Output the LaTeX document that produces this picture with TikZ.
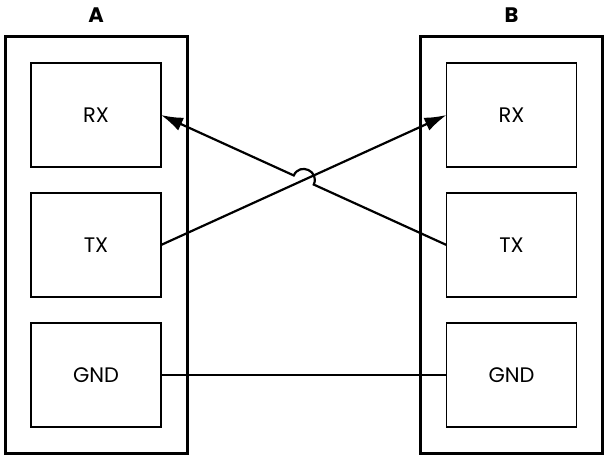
\documentclass[tikz,border=0pt]{standalone}
\usepackage{fontspec}
\setmainfont{Poppins}
\usetikzlibrary{positioning}
\usetikzlibrary{calc}
\usetikzlibrary{arrows.meta}

\begin{document}
\begin{tikzpicture}
[
x=0.5pt, y=-0.5pt,
board-a/.style={rectangle,draw,line width=1.5pt,outer sep=0pt,minimum width=91pt,minimum height=208pt},
pin-a/.style={rectangle,draw,line width=0.6pt,outer sep=0pt,minimum width=65pt,minimum height=52pt,font=\fontsize{10.5}{12}\selectfont},
text-a/.style={black,font=\bfseries\fontsize{10.5}{12}\selectfont},
wire-a/.style={line width=1.1pt},
]
\useasboundingbox (0,0) rectangle (609,459);
% device A
\node (bA) [board-a] at (96,245)       {};
\node (lA) [text-a,  above = 3.5pt of bA]  {A};
\node (rxA) [pin-a]  at (96,115)       {RX};
\node (txA) [pin-a,  below = 13pt of rxA] {TX};
\node (gndA) [pin-a, below = 13pt of txA] {GND};
% device B
\node (bB) [board-a] at (511.5,245)    {};
\node (lB) [text-a,  above = 3.5pt of bB]  {B};
\node (rxB) [pin-a]  at (511.5,115)    {RX};
\node (txB) [pin-a,  below = 13pt of rxB] {TX};
\node (gndB) [pin-a, below = 13pt of txB] {GND};
% wires
\coordinate (h1) at ($(txB.west)!0.465!(rxA.east)$);
\coordinate (h2) at ($(txB.west)!0.535!(rxA.east)$);
\draw [wire-a,-{Latex[length=11pt,width=7pt]}] (txA.east) -- (rxB.west);
\draw [wire-a,-{Latex[length=11pt,width=7pt]}] (txB.west) -- (h1)
  .. controls ($(h1)!0.667!-90:(h2)$) and ($(h2)!0.667!90:(h1)$) .. (h2) -- (rxA.east);
\draw [wire-a] (gndA.east) -- (gndB.west);
\end{tikzpicture}
\end{document}
